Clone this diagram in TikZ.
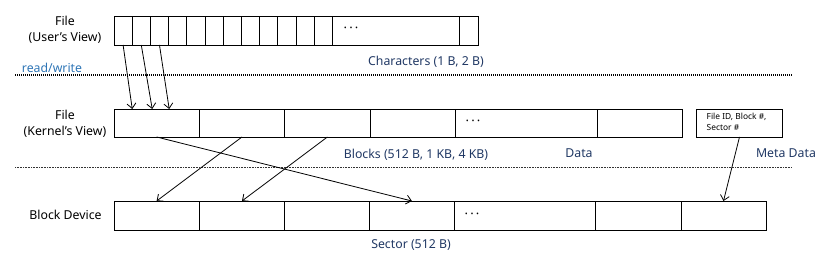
\documentclass[tikz,border=0pt]{standalone}
\usepackage{fontspec}
\setmainfont{Noto Sans}
\usetikzlibrary{arrows.meta,calc}
\definecolor{rwblue}{HTML}{2E75B6}
\definecolor{navy}{HTML}{203864}
\newcommand{\mydots}{·\hspace{2.2pt}·\hspace{2.2pt}·}
\tikzset{
  cell/.style={draw=black, line width=0.8pt, inner sep=0pt, outer sep=0pt, anchor=north west},
  lbl/.style={font=\fontsize{12.3}{16}\selectfont, text=black, align=center, inner sep=0pt},
  nlbl/.style={font=\fontsize{12.3}{16}\selectfont, text=navy, inner sep=0pt},
  dotsty/.style={font=\fontsize{13}{16}\selectfont, inner sep=0pt},
  arr/.style={-{Straight Barb[length=5pt,width=9pt]}, line width=0.8pt},
  dotline/.style={line width=1.3pt, dash pattern=on 1pt off 1pt},
  dotline2/.style={line width=0.8pt, dash pattern=on 0.8pt off 0.8pt, black!80}
}
\begin{document}
\begin{tikzpicture}[x=1pt,y=-1pt]
\useasboundingbox (0,0) rectangle (823,261);
% top row (user's view)
\foreach \i in {1,...,12}{
  \node[cell, minimum width=18.19pt, minimum height=29pt] (u\i) at ({114+(\i-1)*18.19},16) {};
}
\node[cell, minimum width=127.4pt, minimum height=29pt] (u13) at (332.3,16) {};
\node[cell, minimum width=18.6pt, minimum height=29pt] (u14) at (459.7,16) {};
\node[dotsty] (udots) at (351,30) {\mydots};
% middle row (kernel's view)
\node[cell, minimum width=85.3pt, minimum height=28pt] (k1) at (114,109) {};
\node[cell, minimum width=85.4pt, minimum height=28pt] (k2) at (199.3,109) {};
\node[cell, minimum width=85.3pt, minimum height=28pt] (k3) at (284.7,109) {};
\node[cell, minimum width=85pt, minimum height=28pt] (k4) at (370,109) {};
\node[cell, minimum width=142.3pt, minimum height=28pt] (k5) at (455,109) {};
\node[cell, minimum width=85.4pt, minimum height=28pt] (k6) at (597.3,109) {};
\node[dotsty, font=\fontsize{13}{16}\selectfont\bfseries] (kdots) at (473,123) {\mydots};
\node[cell, minimum width=85.6pt, minimum height=28pt] (m) at (696.7,109) {};
\node[anchor=north west, inner sep=0pt, align=left, font=\fontsize{8.4}{11}\selectfont] (mtext) at (706.5,113) {File ID, Block \#,\\Sector \#};
% bottom row (block device)
\node[cell, minimum width=85.3pt, minimum height=29pt] (b1) at (114,201) {};
\node[cell, minimum width=85.4pt, minimum height=29pt] (b2) at (199.3,201) {};
\node[cell, minimum width=85.0pt, minimum height=29pt] (b3) at (284.7,201) {};
\node[cell, minimum width=84.3pt, minimum height=29pt] (b4) at (369.7,201) {};
\node[cell, minimum width=141.7pt, minimum height=29pt] (b5) at (454,201) {};
\node[cell, minimum width=85.3pt, minimum height=29pt] (b6) at (595.7,201) {};
\node[cell, minimum width=85pt, minimum height=29pt] (b7) at (681,201) {};
\node[dotsty] (bdots) at (472,215.5) {\mydots};
% left labels
\node[lbl] (fu) at (65,30) {File\\(User's View)};
\node[lbl] (fk) at (65,124) {File\\(Kernel's View)};
\node[lbl] (bd) at (65.5,215) {Block Device};
% blue labels
\node[lbl, text=rwblue] (rw) at (52,68) {read/write};
\node[nlbl] (chars) at (426,62) {Characters (1 B, 2 B)};
\node[nlbl] (blocks) at (416,155) {Blocks (512 B, 1 KB, 4 KB)};
\node[nlbl] (data) at (579,153) {Data};
\node[nlbl] (meta) at (786,153) {Meta Data};
\node[nlbl] (sector) at (411,245) {Sector (512 B)};
% dotted separators
\coordinate (d1a) at (15,75); \coordinate (d1b) at (792,75);
\coordinate (d2a) at (15,167.5); \coordinate (d2b) at (792,167.5);
\draw[dotline] (d1a) -- (d1b);
\draw[dotline2] (d2a) -- (d2b);
% arrows
\draw[arr] (u1.south) -- ($(k1.north west)!0.214!(k1.north east)$);
\draw[arr] (u2.south) -- ($(k1.north west)!0.448!(k1.north east)$);
\draw[arr] (u3.south) -- ($(k1.north west)!0.647!(k1.north east)$);
\draw[arr] (k1.south) -- (b4.north);
\draw[arr] (k2.south) -- (b1.north);
\draw[arr] (k3.south) -- (b2.north);
\draw[arr] (m.south) -- (b7.north);
\end{tikzpicture}
\end{document}
